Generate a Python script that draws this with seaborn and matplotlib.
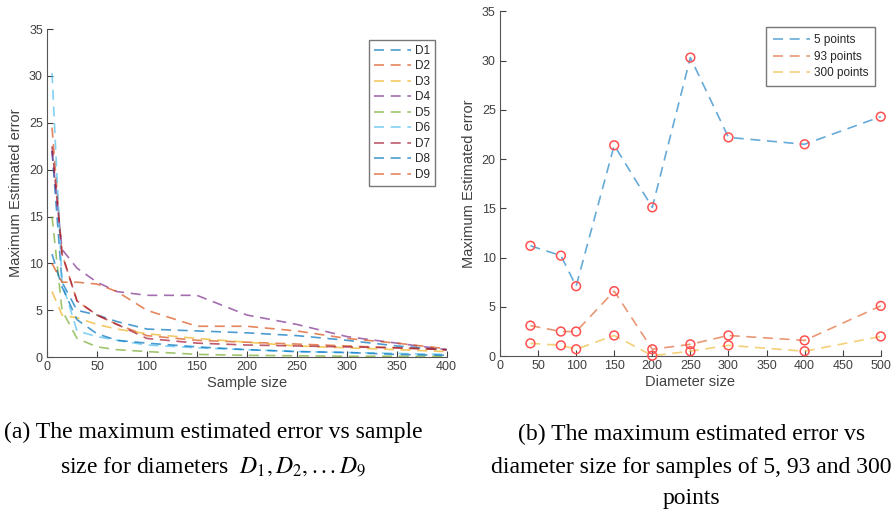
"""
Maximum estimated error vs sample size and vs diameter size.
"""

import numpy as np
import pandas as pd
import matplotlib
matplotlib.use("Agg")
import matplotlib.pyplot as plt
import seaborn as sns

# ---- data: panel (a) ----
sample_sizes = [5, 15, 30, 50, 70, 100, 150, 200, 250, 300, 350, 400]
d1 = [22.0, 8.0, 5.0, 4.5, 3.8, 3.0, 2.8, 2.6, 2.3, 1.8, 1.2, 0.8]
d2 = [24.5, 11.0, 6.0, 4.5, 3.5, 2.3, 1.8, 1.6, 1.4, 1.2, 1.0, 0.8]
d3 = [7.0, 4.5, 4.2, 3.5, 3.0, 2.5, 2.0, 1.6, 1.2, 1.0, 0.8, 0.6]
d4 = [22.0, 11.5, 9.5, 8.0, 7.0, 6.6, 6.6, 4.5, 3.5, 2.2, 1.5, 0.8]
d5 = [15.0, 5.0, 2.0, 1.1, 0.8, 0.6, 0.3, 0.2, 0.15, 0.1, 0.1, 0.1]
d6 = [30.3, 8.0, 2.8, 2.2, 1.8, 1.3, 1.0, 0.8, 0.6, 0.5, 0.4, 0.3]
d7 = [22.5, 11.0, 6.0, 4.5, 3.5, 2.0, 1.5, 1.3, 1.2, 1.1, 1.0, 0.8]
d8 = [11.0, 7.5, 4.0, 2.5, 1.8, 1.5, 1.1, 0.8, 0.6, 0.5, 0.3, 0.2]
d9 = [10.0, 8.0, 8.0, 7.8, 7.0, 5.0, 3.3, 3.3, 2.8, 2.0, 1.5, 0.9]
diam_names = ["D1", "D2", "D3", "D4", "D5", "D6", "D7", "D8", "D9"]
diam_series = [d1, d2, d3, d4, d5, d6, d7, d8, d9]

# ---- data: panel (b) ----
diameters = [40, 80, 100, 150, 200, 250, 300, 400, 500]
pts_5 = [11.2, 10.2, 7.1, 21.4, 15.1, 30.3, 22.2, 21.5, 24.3]
pts_93 = [3.1, 2.5, 2.5, 6.6, 0.7, 1.2, 2.1, 1.6, 5.1]
pts_300 = [1.3, 1.1, 0.7, 2.1, 0.05, 0.5, 1.1, 0.5, 2.0]
point_names = ["5 points", "93 points", "300 points"]

matlab = ["#0072BD", "#D95319", "#EDB120", "#7E2F8E", "#77AC30",
          "#4DBEEE", "#A2142F", "#0072BD", "#D95319"]

sns.set_style("white")
plt.rcParams["font.family"] = ["Liberation Sans", "DejaVu Sans"]
plt.rcParams["mathtext.fontset"] = "stix"

fig = plt.figure(figsize=(8.96, 5.11), dpi=100)
ax1 = fig.add_axes([0.0525, 0.301, 0.446, 0.642])
ax2 = fig.add_axes([0.558, 0.303, 0.425, 0.675])

text_col = "#404040"
dash = (6, 4)

# panel (a)
for name, vals, col in zip(diam_names, diam_series, matlab):
    df = pd.DataFrame({"n": sample_sizes, "err": vals})
    sns.lineplot(data=df, x="n", y="err", ax=ax1, color=col,
                 lw=1.2, alpha=0.7, label=name)
    ax1.lines[-1].set_dashes(dash)
ax1.set_xlim(0, 400)
ax1.set_ylim(0, 35)
ax1.set_xticks(np.arange(0, 401, 50))
ax1.set_yticks(np.arange(0, 36, 5))
ax1.set_xlabel("Sample size", fontsize=10.5, color=text_col, labelpad=2)
ax1.set_ylabel("Maximum Estimated error", fontsize=10.5, color=text_col, labelpad=4)
leg1 = ax1.legend(loc="upper right", bbox_to_anchor=(0.985, 0.985), fontsize=8.5,
                  handlelength=3.2, frameon=True, fancybox=False, borderpad=0.4,
                  labelspacing=0.3, handletextpad=0.3)
leg1.get_frame().set_edgecolor("#555555")
leg1.get_frame().set_linewidth(1.0)

# panel (b)
b_cols = ["#0072BD", "#D95319", "#EDB120"]
for name, vals, col in zip(point_names, [pts_5, pts_93, pts_300], b_cols):
    df = pd.DataFrame({"d": diameters, "err": vals})
    sns.lineplot(data=df, x="d", y="err", ax=ax2, color=col,
                 lw=1.2, alpha=0.6, label=name)
    ax2.lines[-1].set_dashes(dash)
    ax2.scatter(diameters, vals, s=40, facecolors="none", edgecolors="#FF5050",
                linewidths=1.1, zorder=3, clip_on=False)
ax2.set_xlim(0, 500)
ax2.set_ylim(0, 35)
ax2.set_xticks(np.arange(0, 501, 50))
ax2.set_yticks(np.arange(0, 36, 5))
ax2.set_xlabel("Diameter size", fontsize=10.5, color=text_col, labelpad=2)
ax2.set_ylabel("Maximum Estimated error", fontsize=10.5, color=text_col, labelpad=4)
leg2 = ax2.legend(loc="upper right", bbox_to_anchor=(1.0, 0.97), fontsize=8.5,
                  handlelength=3.2, frameon=True, fancybox=False, borderpad=0.55,
                  labelspacing=0.4, handletextpad=0.3)
leg2.get_frame().set_edgecolor("#555555")
leg2.get_frame().set_linewidth(1.0)

for ax in (ax1, ax2):
    sns.despine(ax=ax)
    ax.spines["left"].set_color("#555555")
    ax.spines["bottom"].set_color("#555555")
    ax.tick_params(direction="in", length=4, labelsize=9, colors=text_col,
                   left=True, bottom=True, pad=3)
    for t in ax.get_xticklabels() + ax.get_yticklabels():
        t.set_color(text_col)

# captions
cap = dict(fontsize=17, family=["Liberation Serif", "DejaVu Serif"],
           color="black", ha="center", va="center")
fig.text(0.238, 0.153, "(a) The maximum estimated error vs sample", **cap)
fig.text(0.238, 0.086, r"size for diameters  $D_1, D_2, ...D_9$", **cap)
fig.text(0.772, 0.149, "(b) The maximum estimated error vs", **cap)
fig.text(0.772, 0.086, "diameter size for samples of 5, 93 and 300", **cap)
fig.text(0.772, 0.025, "points", **cap)

fig.savefig("out.png", dpi=100)
